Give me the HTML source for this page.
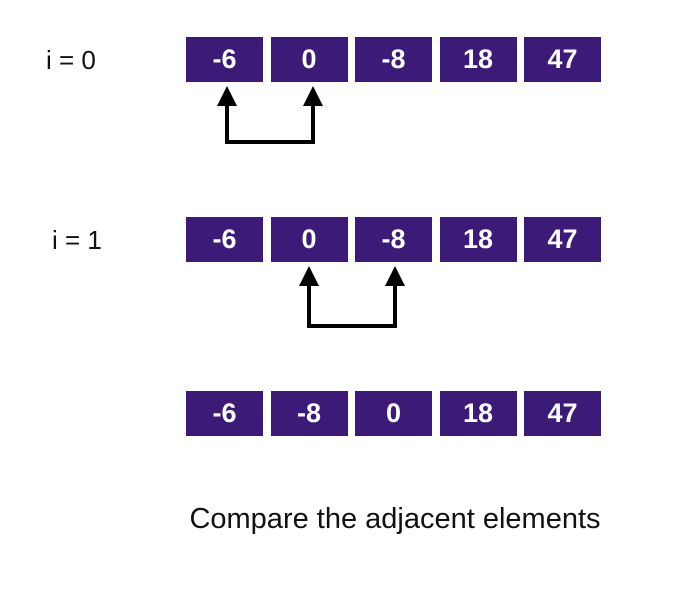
<!DOCTYPE html>
<html><head><meta charset="utf-8"><style>
body{margin:0;width:700px;height:600px;background:#fff;font-family:"Liberation Sans",sans-serif;position:relative;overflow:hidden}
.box{position:absolute;width:77px;height:45px;background:#3b1a78;color:#fff;font-weight:bold;font-size:27px;display:flex;align-items:center;justify-content:center}
.lbl{position:absolute;font-size:26px;color:#111}
</style></head><body>
<div class="lbl" style="left:46px;top:45px">i = 0</div>
<div class="lbl" style="left:52px;top:225px">i = 1</div>
<div id="rows"></div>
<svg width="700" height="600" style="position:absolute;left:0;top:0">
<g fill="none" stroke="#000" stroke-width="4">
<path d="M227 104 V142 H313 V104"/>
<path d="M309 284 V326 H395 V284"/>
</g>
<g fill="#000">
<polygon points="227,86 217,106 237,106"/>
<polygon points="313,86 303,106 323,106"/>
<polygon points="309,266 299,286 319,286"/>
<polygon points="395,266 385,286 405,286"/>
</g>
</svg>
<div class="lbl" style="left:0;width:790px;text-align:center;top:503px;font-size:29px">Compare the adjacent elements</div>
<script>
const row0=["-6","0","-8","18","47"];
const row1=["-6","0","-8","18","47"];
const row2=["-6","-8","0","18","47"];
const rows=[row0,row1,row2];
const tops=[37,217,391];
const c=document.getElementById('rows');
rows.forEach((r,ri)=>r.forEach((v,i)=>{
const d=document.createElement('div');
d.className='box';


d.style.left=(186+i*84.5)+'px';
d.style.top=tops[ri]+'px';
d.textContent=v;c.appendChild(d);}));
</script>
</body></html>
